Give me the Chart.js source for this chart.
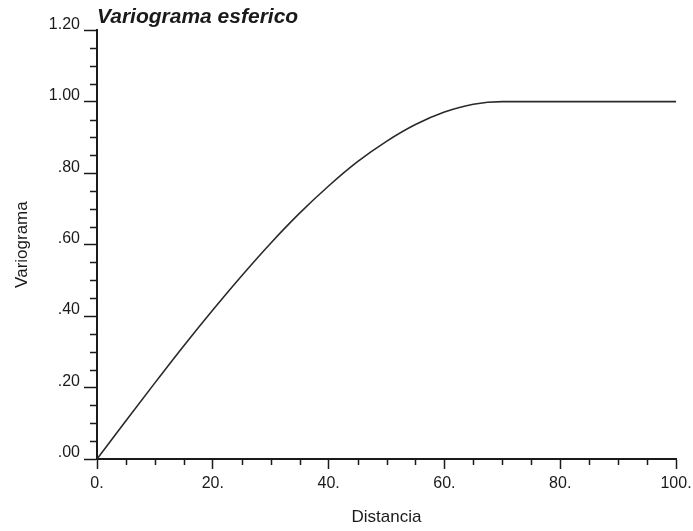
<!DOCTYPE html>
<html>
<head>
<meta charset="utf-8">
<script src="https://cdn.jsdelivr.net/npm/chart.js@4/dist/chart.umd.min.js"></script>
<style>
  html, body { margin: 0; padding: 0; background: #fff; }
  canvas { display: block; }
</style>
</head>
<body>
<canvas id="c" width="693" height="531"></canvas>
<script>
// ---- data ----
const chartTitle = "Variograma esferico";
const xAxisTitle = "Distancia";
const yAxisTitle = "Variograma";
const distances = [0, 5, 10, 15, 20, 25, 30, 35, 40, 45, 50, 55, 60, 65, 70, 75, 80, 85, 90, 95, 100];
const variogram = [0, 0.107, 0.213, 0.317, 0.417, 0.513, 0.604, 0.688, 0.764, 0.832, 0.889, 0.936, 0.971, 0.993, 1.0, 1.0, 1.0, 1.0, 1.0, 1.0, 1.0];
const xMajorTicks = [0, 20, 40, 60, 80, 100];
const xMinorTicks = [5, 10, 15, 25, 30, 35, 45, 50, 55, 65, 70, 75, 85, 90, 95];
const yMajorTicks = [0, 0.2, 0.4, 0.6, 0.8, 1.0, 1.2];
const yMinorTicks = [0.05, 0.1, 0.15, 0.25, 0.3, 0.35, 0.45, 0.5, 0.55, 0.65, 0.7, 0.75, 0.85, 0.9, 0.95, 1.05, 1.1, 1.15];

const FONT = '"Liberation Sans", Arial, Helvetica, sans-serif';
const INK = '#1a1a1a';

const minorTicksPlugin = {
  id: 'minorTicks',
  afterDraw(chart) {
    const ctx = chart.ctx;
    const xs = chart.scales.x, ys = chart.scales.y;
    const area = chart.chartArea;
    ctx.save();
    ctx.strokeStyle = INK;
    ctx.lineWidth = 1.5;
    ctx.beginPath();
    xMinorTicks.forEach(v => {
      const px = Math.round(xs.getPixelForValue(v)) + 0.5;
      ctx.moveTo(px, area.bottom);
      ctx.lineTo(px, area.bottom + 6);
    });
    yMinorTicks.forEach(v => {
      const py = Math.round(ys.getPixelForValue(v)) + 0.5;
      ctx.moveTo(area.left, py);
      ctx.lineTo(area.left - 7, py);
    });
    ctx.stroke();
    ctx.restore();
  }
};

new Chart(document.getElementById('c'), {
  type: 'line',
  data: {
    datasets: [{
      data: distances.map((d, i) => ({ x: d, y: variogram[i] })),
      borderColor: '#2a2a2a',
      borderWidth: 1.6,
      pointRadius: 0,
      fill: false,
      cubicInterpolationMode: 'monotone'
    }]
  },
  plugins: [minorTicksPlugin],
  options: {
    responsive: false,
    animation: false,
    devicePixelRatio: 1,
    layout: { padding: { left: 0, right: 0, top: 0, bottom: 0 } },
    plugins: {
      legend: { display: false },
      tooltip: { enabled: false },
      title: {
        display: true,
        text: chartTitle,
        align: 'start',
        fullSize: false,
        color: INK,
        font: { family: FONT, size: 21, weight: 'bold', style: 'italic' },
        padding: { top: 5, bottom: 0 }
      }
    },
    scales: {
      x: {
        type: 'linear',
        min: 0,
        max: 100,
        afterFit(scale) { scale.height = 72; scale.paddingRight = 17; },
        afterBuildTicks(scale) { scale.ticks = xMajorTicks.map(v => ({ value: v })); },
        border: { display: true, color: INK, width: 2 },
        grid: { display: true, drawOnChartArea: false, drawTicks: true, tickLength: 10, tickColor: INK, tickWidth: 1.5 },
        ticks: {
          color: INK,
          padding: 5,
          maxRotation: 0,
          font: { family: FONT, size: 16 },
          callback: v => v + '.'
        },
        title: {
          display: true,
          text: xAxisTitle,
          color: INK,
          font: { family: FONT, size: 17 },
          padding: { top: 0, bottom: 3 }
        }
      },
      y: {
        type: 'linear',
        min: 0,
        max: 1.2,
        afterFit(scale) { scale.width = 97; },
        afterBuildTicks(scale) { scale.ticks = yMajorTicks.map(v => ({ value: v })); },
        border: { display: true, color: INK, width: 2 },
        grid: { display: true, drawOnChartArea: false, drawTicks: true, tickLength: 13, tickColor: INK, tickWidth: 1.5 },
        ticks: {
          color: INK,
          padding: 4,
          labelOffset: -6,
          font: { family: FONT, size: 16 },
          callback: v => { const s = Number(v).toFixed(2); return s.startsWith('0') ? s.slice(1) : s; }
        },
        title: {
          display: true,
          text: yAxisTitle,
          color: INK,
          font: { family: FONT, size: 17 },
          padding: { top: 12, bottom: 0 }
        }
      }
    }
  }
});
</script>
</body>
</html>
